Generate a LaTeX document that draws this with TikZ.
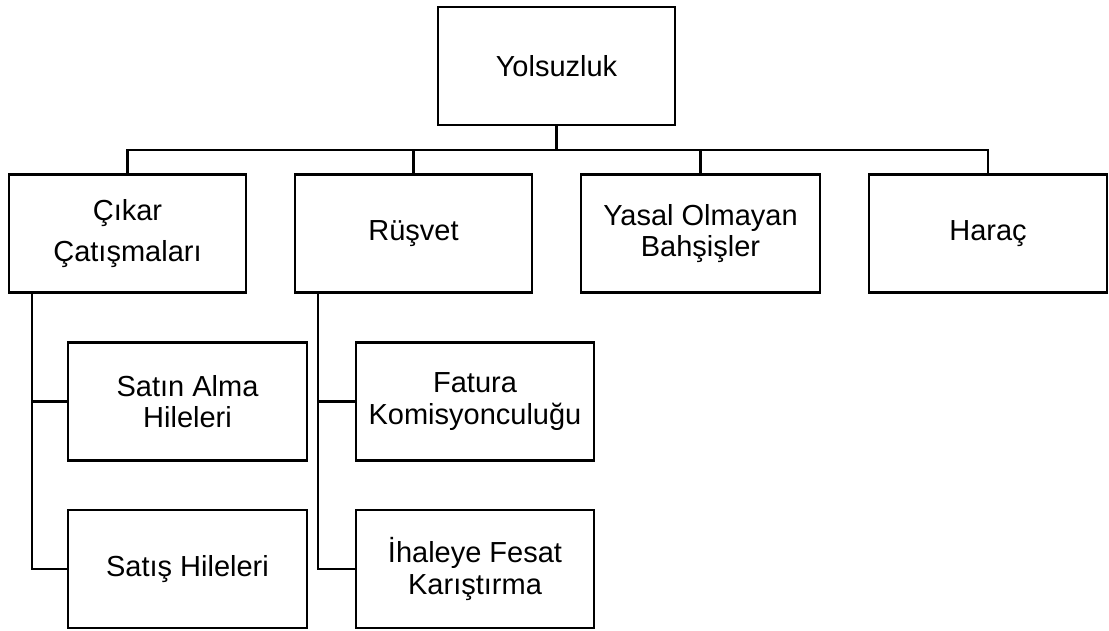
\documentclass[tikz,border=0pt]{standalone}
\usepackage{fontspec}
\setmainfont{Liberation Sans}
\begin{document}
\begin{tikzpicture}[x=1pt,y=-1pt,
  box/.style={draw,line width=2.4pt,minimum width=237pt,minimum height=118pt,
    align=center,inner sep=2pt,font=\fontsize{29}{31.5}\selectfont},
  link/.style={line width=2.4pt}]
\useasboundingbox (0,0) rectangle (1109,630);
\node[box] (Y) at (556.5,66) {Yolsuzluk};
\node[box] (C) at (127.5,233.5) {Çıkar\\[10pt]Çatışmaları};
\node[box] (R) at (413.5,233.5) {Rüşvet};
\node[box,minimum width=239pt] (YO) at (700.5,233.5) {Yasal Olmayan\\Bahşişler};
\node[box,minimum width=238pt] (H) at (988,233.5) {Haraç};
\node[box,minimum width=239pt] (SA) at (187.5,401.5) {Satın Alma\\Hileleri};
\node[box,minimum width=239pt] (SS) at (187.5,569) {Satış Hileleri};
\node[box,minimum width=238pt] (F) at (475,401.5) {Fatura\\Komisyonculuğu};
\node[box,minimum width=238pt] (I) at (475,569) {İhaleye Fesat\\Karıştırma};
\coordinate (busL) at (127.5,150);
\coordinate (busR) at (988,150);
\draw[link] (C.north) -- (busL) -- (busR) -- (H.north);
\draw[link] (Y.south) -- (Y.south |- busL);
\draw[link] (R.north) -- (R.north |- busL);
\draw[link] (YO.north) -- (YO.north |- busL);
\draw[link] ([xshift=24pt]C.south west) |- (SA.west);
\draw[link] ([xshift=24pt]C.south west) |- (SS.west);
\draw[link] ([xshift=24pt]R.south west) |- (F.west);
\draw[link] ([xshift=24pt]R.south west) |- (I.west);
\end{tikzpicture}
\end{document}
